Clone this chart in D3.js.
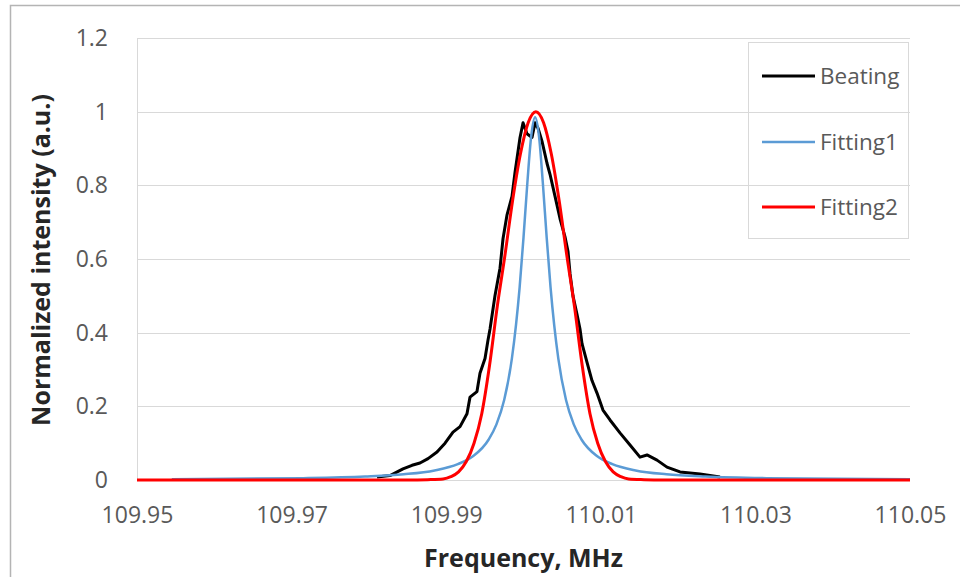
<!DOCTYPE html>
<html>
<head>
<meta charset="utf-8">
<script src="https://cdn.jsdelivr.net/npm/d3@7"></script>
<style>
    body { margin: 0; background: #fff; }
    #view1 { width: 960px; height: 577px; position: relative; }
</style>
</head>
<body>
<div id="view1"></div>
<script>
// Beating (measured)
var beatFreq = [109.98105, 109.98273, 109.98441, 109.98558, 109.98661, 109.98765, 109.98881, 109.98985,
    109.99088, 109.99179, 109.99269, 109.99308, 109.99398, 109.99437, 109.99502, 109.99541, 109.99567,
    109.99631, 109.99696, 109.99735, 109.99787, 109.99851, 109.99890, 109.99955, 109.99994, 110.00045,
    110.00110, 110.00149, 110.00188, 110.00239, 110.00304, 110.00343, 110.00408, 110.00472, 110.00537,
    110.00576, 110.00602, 110.00640, 110.00692, 110.00731, 110.00757, 110.00821, 110.00886, 110.00951,
    110.01028, 110.01119, 110.01248, 110.01378, 110.01507, 110.01598, 110.01727, 110.01856, 110.02025,
    110.02283, 110.02542];
var beatVal = [0.008, 0.012, 0.030, 0.040, 0.046, 0.058, 0.076, 0.100,
    0.130, 0.145, 0.180, 0.225, 0.240, 0.290, 0.330, 0.380, 0.410,
    0.500, 0.575, 0.655, 0.720, 0.770, 0.835, 0.930, 0.970, 0.940,
    0.930, 0.970, 0.955, 0.920, 0.860, 0.830, 0.770, 0.710, 0.660,
    0.620, 0.560, 0.500, 0.450, 0.410, 0.370, 0.320, 0.270, 0.236,
    0.190, 0.163, 0.128, 0.095, 0.062, 0.068, 0.054, 0.035, 0.022,
    0.016, 0.008];

// Fitting1
var fit1Freq = [109.9545, 109.9715, 109.9795, 109.9845, 109.9885, 109.9915, 109.9935, 109.9955,
    109.9965, 109.9975, 109.9985, 109.9995, 110.0000, 110.0005, 110.0010, 110.0015, 110.0020,
    110.0025, 110.0030, 110.0035, 110.0045, 110.0055, 110.0065, 110.0075, 110.0095, 110.0115,
    110.0145, 110.0185, 110.0235, 110.0315, 110.0500];
var fit1Val = [0.002, 0.005, 0.0093, 0.0155, 0.026, 0.043, 0.065, 0.110,
    0.151, 0.217, 0.330, 0.523, 0.658, 0.807, 0.934, 0.985, 0.934,
    0.807, 0.658, 0.523, 0.330, 0.217, 0.151, 0.110, 0.065, 0.043,
    0.026, 0.0155, 0.0093, 0.005, 0.002];

// Fitting2
var fit2Freq = [109.9500, 109.9850, 109.9876, 109.9896, 109.9906, 109.9916, 109.9926, 109.9936,
    109.9946, 109.9956, 109.9966, 109.9976, 109.9986, 109.9996, 110.0006, 110.0016, 110.0026,
    110.0036, 110.0046, 110.0056, 110.0066, 110.0076, 110.0086, 110.0096, 110.0106, 110.0116,
    110.0126, 110.0136, 110.0156, 110.0180, 110.0500];
var fit2Val = [0, 0, 0.001, 0.003, 0.009, 0.022, 0.050, 0.100,
    0.180, 0.310, 0.470, 0.610, 0.760, 0.885, 0.970, 1.000, 0.970,
    0.885, 0.760, 0.610, 0.470, 0.310, 0.180, 0.100, 0.050, 0.022,
    0.009, 0.003, 0.001, 0, 0];

var xTicks = [109.95, 109.97, 109.99, 110.01, 110.03, 110.05];
var yTicks = [0, 0.2, 0.4, 0.6, 0.8, 1, 1.2];

var seriesNames = ["Beating", "Fitting1", "Fitting2"];
var seriesColors = ["#000000", "#5b9bd5", "#ff0000"];

var width = 960, height = 577;
var margin = { top: 38, right: 50, bottom: 97, left: 137 };
var graphWidth = width - margin.left - margin.right;
var graphHeight = height - margin.top - margin.bottom;
var fontFamily = "'Open Sans', sans-serif";

var svg = d3.select("#view1")
    .append("svg")
    .attr("width", width)
    .attr("height", height);

svg.append("rect")
    .attr("width", width)
    .attr("height", height)
    .attr("fill", "#fff");

// outer chart frame (cut by the image edge on right/bottom)
svg.append("rect")
    .attr("x", 10.5)
    .attr("y", 5.5)
    .attr("width", 1000)
    .attr("height", 1000)
    .attr("fill", "none")
    .attr("stroke", "#b4b4b4")
    .attr("stroke-width", 1.5);

var svg_g = svg.append("g")
    .attr("transform", `translate(${margin.left},${margin.top})`);

var xScale = d3.scaleLinear()
    .domain([109.95, 110.05])
    .range([0, graphWidth]);

var yScale = d3.scaleLinear()
    .domain([0, 1.2])
    .range([graphHeight, 0]);

// gridlines
svg_g.append("g")
    .selectAll("line")
    .data(yTicks)
    .join("line")
    .attr("x1", 0)
    .attr("x2", graphWidth)
    .attr("y1", d => Math.round(yScale(d)) + 0.5)
    .attr("y2", d => Math.round(yScale(d)) + 0.5)
    .attr("stroke", "#d9d9d9")
    .attr("stroke-width", 1);

svg_g.append("line")
    .attr("x1", 0.5)
    .attr("x2", 0.5)
    .attr("y1", 0)
    .attr("y2", graphHeight)
    .attr("stroke", "#d9d9d9");

// y axis labels
var yAxis = svg_g.append("g")
    .call(d3.axisLeft(yScale).tickValues(yTicks).tickFormat(d3.format("")).tickSize(0).tickPadding(29));
yAxis.select(".domain").remove();
yAxis.selectAll("text")
    .style("font-family", fontFamily)
    .style("font-size", "23px")
    .style("fill", "#595959");

// x axis labels
var xAxis = svg_g.append("g")
    .attr("transform", `translate(0,${graphHeight})`)
    .call(d3.axisBottom(xScale).tickValues(xTicks).tickFormat(d3.format(".2f")).tickSize(0).tickPadding(27));
xAxis.select(".domain").remove();
xAxis.selectAll("text")
    .style("font-family", fontFamily)
    .style("font-size", "23px")
    .style("fill", "#595959");

// lines
var line = d3.line()
    .x(p => xScale(p[0]))
    .y(p => yScale(p[1]));

var seriesData = [
    { name: "Beating", pts: d3.zip(beatFreq, beatVal), curve: d3.curveLinear, w: 3 },
    { name: "Fitting1", pts: d3.zip(fit1Freq, fit1Val), curve: d3.curveMonotoneX, w: 2.5 },
    { name: "Fitting2", pts: d3.zip(fit2Freq, fit2Val), curve: d3.curveMonotoneX, w: 3 }
];

seriesData.forEach((s, i) => {
    svg_g.append("path")
        .datum(s.pts)
        .attr("fill", "none")
        .attr("stroke", seriesColors[i])
        .attr("stroke-width", s.w)
        .attr("stroke-linejoin", "round")
        .attr("d", line.curve(s.curve));
});

// axis titles
svg.append("text")
    .attr("x", margin.left + graphWidth / 2)
    .attr("y", 567)
    .attr("text-anchor", "middle")
    .text("Frequency, MHz")
    .style("font-family", fontFamily)
    .style("font-weight", "bold")
    .style("font-size", "25px")
    .style("fill", "#262626");

svg.append("text")
    .attr("transform", "translate(50,260) rotate(-90)")
    .attr("text-anchor", "middle")
    .text("Normalized intensity (a.u.)")
    .style("font-family", fontFamily)
    .style("font-weight", "bold")
    .style("font-size", "25px")
    .style("fill", "#262626");

// legend
var legend = svg.append("g");
legend.append("rect")
    .attr("x", 748.5)
    .attr("y", 42.5)
    .attr("width", 160)
    .attr("height", 196)
    .attr("fill", "none")
    .attr("stroke", "#d9d9d9");

var legendY = [76, 142, 207];
seriesNames.forEach((name, i) => {
    legend.append("line")
        .attr("x1", 762)
        .attr("x2", 815)
        .attr("y1", legendY[i])
        .attr("y2", legendY[i])
        .attr("stroke", seriesColors[i])
        .attr("stroke-width", i === 1 ? 2.5 : 3);
    legend.append("text")
        .attr("x", 820)
        .attr("y", legendY[i])
        .attr("dy", "0.35em")
        .text(name)
        .style("font-family", fontFamily)
        .style("font-size", "22.5px")
        .style("fill", "#595959");
});
</script>
</body>
</html>
